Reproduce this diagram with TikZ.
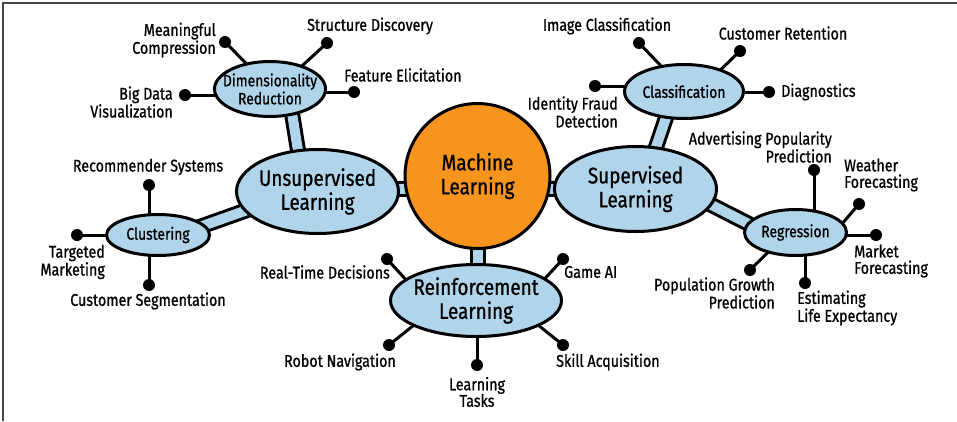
\documentclass[tikz,border=0pt]{standalone}
\usepackage{fontspec}
\setmainfont{Fira Sans}[FakeStretch=0.84,FakeBold=0.9]
\usetikzlibrary{backgrounds,calc,shapes.geometric}
\definecolor{bluefill}{RGB}{176,212,234}
\definecolor{mlorange}{RGB}{247,148,30}
\definecolor{framegray}{RGB}{70,70,70}
\begin{document}
\begin{tikzpicture}[x=1pt,y=-1pt,
  blob/.style={ellipse, draw=black, line width=3pt, fill=bluefill, inner sep=0pt},
  bigtext/.style={inner sep=0pt, align=center, font=\fontsize{22.5}{24}\selectfont},
  midtext/.style={inner sep=0pt, align=center, font=\fontsize{16.5}{18}\selectfont},
  leaftext/.style={inner sep=0pt, font=\fontsize{17}{16.5}\selectfont},
  leafdot/.style={circle, fill=black, minimum size=12pt, inner sep=0pt},
  stemband/.style={line width=3pt, double=bluefill, double distance=10pt, shorten <=-8pt, shorten >=-8pt},
  leafline/.style={line width=3pt, shorten >=-4pt},
]
\useasboundingbox (0,0) rectangle (957,421);
\draw[framegray, line width=1.5pt] (3,421) -- (3,3) -- (957,3);

% central circle
\node[circle, draw=black, line width=3pt, fill=mlorange, minimum size=145pt, inner sep=0pt] (ml) at (477.5,176) {};
\node[bigtext] (mltext) at (ml.center) {Machine\\Learning};

% main ellipses
\node[blob, minimum width=162pt, minimum height=84pt] (unsup) at (317.5,191.5) {};
\node[bigtext] (unsuptext) at (unsup.center) {Unsupervised\\Learning};
\node[blob, minimum width=162pt, minimum height=85pt] (sup) at (635.5,189) {};
\node[bigtext] (suptext) at (sup.center) {Supervised\\Learning};
\node[blob, minimum width=171pt, minimum height=72pt] (rl) at (476,300.5) {};
\node[bigtext] (rltext) at (rl.center) {Reinforcement\\Learning};

% sub ellipses
\node[blob, minimum width=111pt, minimum height=55pt] (dim) at (270,89) {};
\node[midtext] (dimtext) at (dim.center) {Dimensionality\\Reduction};
\node[blob, minimum width=103pt, minimum height=41pt] (clu) at (158,235) {};
\node[midtext] (clutext) at (clu.center) {Clustering};
\node[blob, minimum width=119pt, minimum height=54pt] (cls) at (684,91.5) {};
\node[midtext] (clstext) at (cls.center) {Classification};
\node[blob, minimum width=102pt, minimum height=46pt] (reg) at (795.5,232.5) {};
\node[midtext] (regtext) at (reg.center) {Regression};

% leaf dots
\node[leafdot] (mc) at (225,42) {};
\node[leafdot] (sd) at (327,43) {};
\node[leafdot] (fe) at (354,92) {};
\node[leafdot] (bdv) at (185,95) {};
\node[leafdot] (rs) at (149,185) {};
\node[leafdot] (tm) at (77,235) {};
\node[leafdot] (cs) at (149,285) {};
\node[leafdot] (ic) at (639,43) {};
\node[leafdot] (cr) at (740,51) {};
\node[leafdot] (dg) at (769,92) {};
\node[leafdot] (ifd) at (595,86) {};
\node[leafdot] (app) at (814,170) {};
\node[leafdot] (wf) at (859,204) {};
\node[leafdot] (mf) at (876,235) {};
\node[leafdot] (ele) at (805,283) {};
\node[leafdot] (pgp) at (750,270) {};
\node[leafdot] (rtd) at (387,259) {};
\node[leafdot] (ga) at (563,259) {};
\node[leafdot] (rn) at (389,345) {};
\node[leafdot] (sa) at (563,345) {};
\node[leafdot] (lt) at (477,365) {};

% leaf texts
\node[leaftext, anchor=east, align=right] (mct) at (216,40) {Meaningful\\Compression};
\node[leaftext, anchor=west] (sdt) at (307,26) {Structure Discovery};
\node[leaftext, anchor=west] (fet) at (344,75) {Feature Elicitation};
\node[leaftext, anchor=east, align=right] (bdvt) at (173,102) {Big Data\\Visualization};
\node[leaftext] (rst) at (148,167) {Recommender Systems};
\node[leaftext, anchor=east, align=right] (tmt) at (105,262) {Targeted\\Marketing};
\node[leaftext] (cst) at (148,301) {Customer Segmentation};
\node[leaftext] (ict) at (607,26) {Image Classification};
\node[leaftext] (crt) at (783,33) {Customer Retention};
\node[leaftext, anchor=west] (dgt) at (781,92) {Diagnostics};
\node[leaftext, anchor=east, align=right] (ifdt) at (618,112) {Identity Fraud\\Detection};
\node[leaftext, anchor=east, align=right] (appt) at (832,147) {Advertising Popularity\\Prediction};
\node[leaftext, anchor=west, align=left] (wft) at (844,175) {Weather\\Forecasting};
\node[leaftext, anchor=west, align=left] (mft) at (854,261) {Market\\Forecasting};
\node[leaftext, anchor=west, align=left] (elet) at (797,308) {Estimating\\Life Expectancy};
\node[leaftext, anchor=east, align=right] (pgpt) at (775,293) {Population Growth\\Prediction};
\node[leaftext, anchor=east] (rtdt) at (390,272) {Real-Time Decisions};
\node[leaftext, anchor=west] (gat) at (564,272) {Game AI};
\node[leaftext, anchor=east] (rnt) at (396,362) {Robot Navigation};
\node[leaftext, anchor=west] (sat) at (556,362) {Skill Acquisition};
\node[leaftext, align=center] (ltt) at (477,392) {Learning\\Tasks};

\begin{pgfonlayer}{background}
  % stems
  \draw[stemband] (ml.190) -- (unsup.center);
  \draw[stemband] (ml.-10) -- (sup.center);
  \draw[stemband] (ml.center) -- (ml.center |- rl.center);
  \draw[stemband] (dim.-50) -- (unsup.115);
  \draw[stemband] (clu.12) -- (unsup.195);
  \draw[stemband] (cls.236) -- (sup.64);
  \draw[stemband] (sup.-12) -- (reg.169);
  % leaf connectors
  \draw[leafline] (mc.center) -- (dim.133);
  \draw[leafline] (sd.center) -- (dim.36);
  \draw[leafline] (fe.center) -- (fe -| dim.east);
  \draw[leafline] (bdv.center) -- (bdv -| dim.west);
  \draw[leafline] (rs.center) -- (rs |- clu.north);
  \draw[leafline] (tm.center) -- (tm -| clu.west);
  \draw[leafline] (cs.center) -- (cs |- clu.south);
  \draw[leafline] (ic.center) -- (cls.132);
  \draw[leafline] (cr.center) -- (cls.31);
  \draw[leafline] (dg.center) -- (dg -| cls.east);
  \draw[leafline] (ifd.center) -- (ifd -| cls.west);
  \draw[leafline] (app.center) -- (app |- reg.north);
  \draw[leafline] (wf.center) -- (reg.12);
  \draw[leafline] (mf.center) -- (mf -| reg.east);
  \draw[leafline] (ele.center) -- (ele |- reg.south);
  \draw[leafline] (pgp.center) -- (reg.216);
  \draw[leafline] (rtd.center) -- (rl.163);
  \draw[leafline] (ga.center) -- (rl.18);
  \draw[leafline] (rn.center) -- (rl.202);
  \draw[leafline] (sa.center) -- (rl.338);
  \draw[leafline] (lt.center) -- (lt |- rl.south);
\end{pgfonlayer}
\end{tikzpicture}
\end{document}
